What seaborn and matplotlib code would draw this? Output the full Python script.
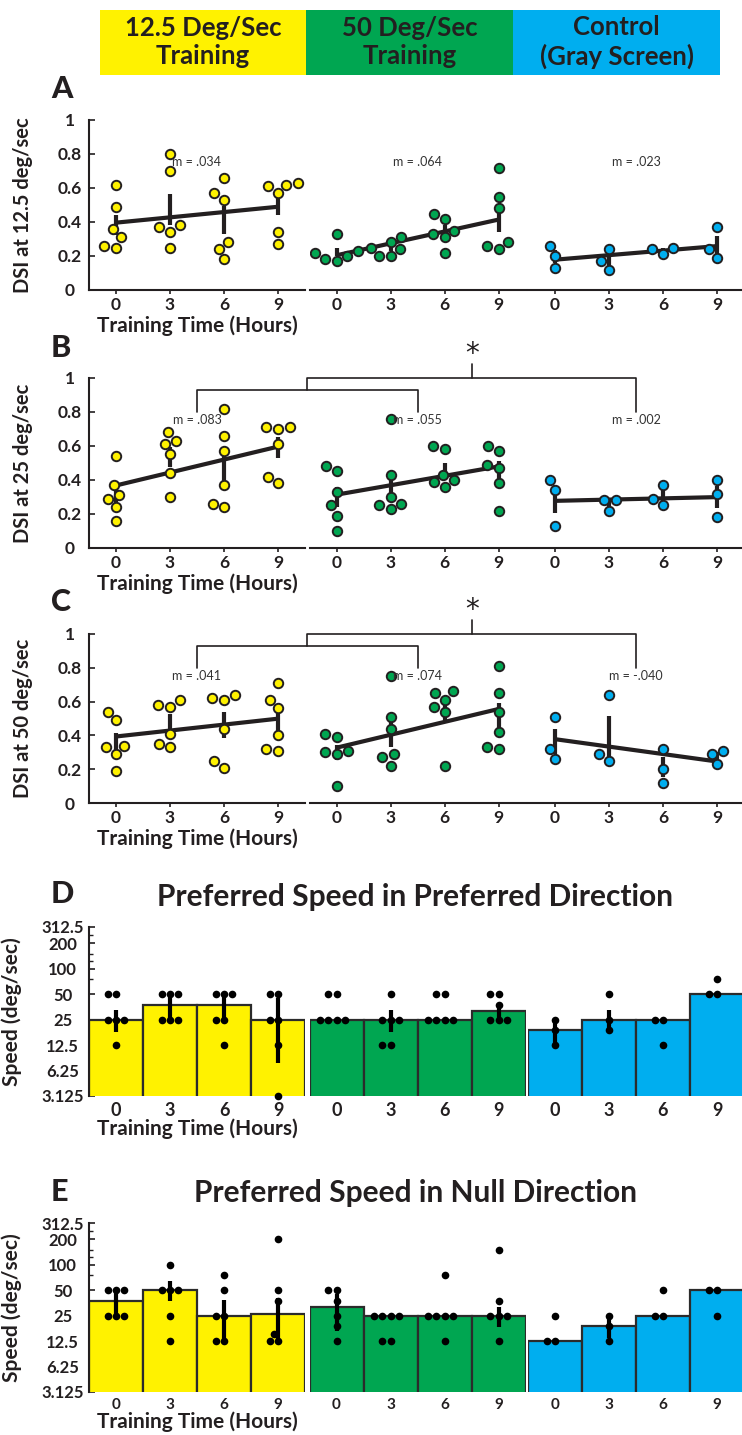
import numpy as np
import pandas as pd
import matplotlib
matplotlib.use("Agg")
import matplotlib.pyplot as plt
import seaborn as sns
from matplotlib.lines import Line2D
from matplotlib.patches import Rectangle
from matplotlib.ticker import NullFormatter

# ---------------- data ----------------
hours = [0, 3, 6, 9]
group_names = ["12.5 Deg/Sec\nTraining", "50 Deg/Sec\nTraining", "Control\n(Gray Screen)"]
group_colors = ["#FFF200", "#00A651", "#00AEEF"]

# Panel A: DSI at 12.5 deg/sec
a_yellow = [[0.62, 0.49, 0.36, 0.31, 0.26, 0.25], [0.80, 0.70, 0.38, 0.37, 0.34, 0.25],
            [0.66, 0.57, 0.53, 0.28, 0.24, 0.18], [0.63, 0.62, 0.61, 0.57, 0.34, 0.27]]
a_green = [[0.33, 0.23, 0.22, 0.20, 0.18, 0.17], [0.31, 0.28, 0.25, 0.24, 0.20, 0.20],
           [0.45, 0.42, 0.35, 0.33, 0.31, 0.22], [0.72, 0.55, 0.48, 0.28, 0.26, 0.24]]
a_blue = [[0.26, 0.20, 0.13], [0.24, 0.17, 0.12], [0.25, 0.24, 0.21], [0.37, 0.24, 0.19]]
a_slopes = [".034", ".064", ".023"]

# Panel B: DSI at 25 deg/sec
b_yellow = [[0.54, 0.37, 0.31, 0.29, 0.24, 0.16], [0.68, 0.63, 0.61, 0.55, 0.44, 0.30],
            [0.82, 0.66, 0.57, 0.37, 0.26, 0.24], [0.71, 0.71, 0.70, 0.61, 0.42, 0.38]]
b_green = [[0.48, 0.45, 0.33, 0.25, 0.19, 0.10], [0.76, 0.43, 0.30, 0.26, 0.25, 0.23],
           [0.60, 0.58, 0.43, 0.40, 0.39, 0.36], [0.60, 0.57, 0.49, 0.47, 0.38, 0.22]]
b_blue = [[0.40, 0.34, 0.13], [0.28, 0.28, 0.22], [0.37, 0.29, 0.25], [0.40, 0.32, 0.18]]
b_slopes = [".083", ".055", ".002"]

# Panel C: DSI at 50 deg/sec
c_yellow = [[0.54, 0.49, 0.34, 0.33, 0.29, 0.19], [0.61, 0.58, 0.57, 0.41, 0.35, 0.33],
            [0.64, 0.62, 0.61, 0.44, 0.25, 0.21], [0.71, 0.61, 0.56, 0.40, 0.32, 0.31]]
c_green = [[0.41, 0.39, 0.31, 0.30, 0.29, 0.10], [0.75, 0.51, 0.44, 0.29, 0.27, 0.22],
           [0.66, 0.65, 0.61, 0.57, 0.54, 0.22], [0.81, 0.65, 0.54, 0.42, 0.33, 0.32]]
c_blue = [[0.51, 0.32, 0.26], [0.64, 0.29, 0.25], [0.32, 0.20, 0.12], [0.31, 0.29, 0.23]]
c_slopes = [".041", ".074", "-.040"]

dsi_ticks = [0, 0.2, 0.4, 0.6, 0.8, 1]
dsi_tick_labels = ["0", "0.2", "0.4", "0.6", "0.8", "1"]

# Panel D: preferred speed in preferred direction (deg/sec)
d_yellow = [[50, 50, 25, 25, 25, 12.5], [50, 50, 50, 25, 25, 25],
            [50, 50, 50, 25, 25, 12.5], [50, 50, 25, 25, 12.5, 3.125]]
d_green = [[50, 50, 25, 25, 25, 25], [50, 25, 25, 25, 12.5, 12.5],
           [50, 50, 25, 25, 25, 25], [50, 50, 37.5, 25, 25, 25]]
d_blue = [[25, 18.75, 12.5], [50, 25, 18.75], [25, 25, 12.5], [75, 50, 50]]
d_err_low = [[18, 25, 25, 7.6], [25, 18, 25, 25], [13, 18, 25, 50]]
d_err_high = [[33, 52, 52, 45], [25, 33, 25, 37], [25, 33, 25, 50]]

# Panel E: preferred speed in null direction (deg/sec)
e_yellow = [[50, 50, 50, 25, 25, 25], [100, 50, 50, 50, 25, 12.5],
            [75, 50, 25, 25, 12.5, 12.5], [200, 50, 37.5, 15, 12.5, 12.5]]
e_green = [[50, 50, 37.5, 25, 18.75, 12.5], [25, 25, 25, 25, 12.5, 12.5],
           [75, 25, 25, 25, 25, 12.5], [150, 37.5, 25, 25, 25, 12.5]]
e_blue = [[25, 12.5, 12.5], [25, 18.75, 12.5], [50, 25, 25], [50, 50, 25]]
e_err_low = [[26, 37, 12.5, 12.5], [16.5, 25, 25, 18.5], [12.5, 13.5, 25, 50]]
e_err_high = [[48, 65, 38, 40], [45, 25, 25, 32], [12.5, 25, 25, 50]]

speed_ticks = [3.125, 6.25, 12.5, 25, 50, 100, 200, 312.5]
speed_tick_labels = ["3.125", "6.25", "12.5", "25", "50", "100", "200", "312.5"]
speed_minor_ticks = [75, 125, 150, 250]

# ---------------- style ----------------
sns.set_theme(style="ticks")
plt.rcParams["font.family"] = ["Lato", "DejaVu Sans"]
DARK = "#231F20"
plt.rcParams.update({"text.color": DARK, "axes.edgecolor": DARK, "xtick.color": DARK,
                     "ytick.color": DARK, "axes.labelcolor": DARK})

W, H = 742, 1435
fig = plt.figure(figsize=(W / 100, H / 100), dpi=100)


def fx(px):
    return px / W


def fy(py):
    return 1 - py / H


col_left = [89, 309.5, 528]
col_w = 216


def make_row(top, bottom):
    return [fig.add_axes([fx(l), fy(bottom), col_w / W, (bottom - top) / H]) for l in col_left]


def long_df(vals):
    return pd.DataFrame([(h, v) for h, vs in zip(hours, vals) for v in vs], columns=["t", "v"])


# ---------------- header ----------------
box_edges = [(100, 306), (306, 513), (513, 720)]
for (x0, x1), name, colr in zip(box_edges, group_names, group_colors):
    fig.add_artist(Rectangle((fx(x0), fy(75)), (x1 - x0) / W, 65 / H,
                             transform=fig.transFigure, facecolor=colr, edgecolor="none"))
    fig.text(fx((x0 + x1) / 2), fy(42), name, ha="center", va="center",
             fontsize=18.5, fontweight="bold", linespacing=1.2)


def panel_letter(letter, y):
    fig.text(fx(51), fy(y), letter, ha="left", va="baseline", fontsize=22, fontweight="black")


# ---------------- DSI rows ----------------
def dsi_row(top, bottom, data, slopes, ylabel):
    axes = make_row(top, bottom)
    for j, (ax, vals) in enumerate(zip(axes, data)):
        df = long_df(vals)
        stats = df.groupby("t")["v"].agg(["mean", "sem"])
        ax.vlines(stats.index, stats["mean"] - stats["sem"], stats["mean"] + stats["sem"],
                  color=DARK, lw=3, zorder=2)
        sns.regplot(data=df, x="t", y="v", scatter=False, ci=None, truncate=True, color=DARK,
                    line_kws={"lw": 3, "zorder": 2.5, "solid_capstyle": "butt"}, ax=ax)
        sns.swarmplot(data=df, x="t", y="v", native_scale=True, color=group_colors[j],
                      edgecolor=DARK, linewidth=1.4, size=6.8, ax=ax, zorder=3)
        ax.text(4.5, 0.75, f"m = {slopes[j]}", ha="center", va="center", fontsize=9,
                color="#333333")
        ax.set_xlim(-1.5, 10.5)
        ax.set_ylim(0, 1)
        ax.set_xlabel("")
        ax.set_ylabel("")
        ax.set_xticks(hours, labels=[str(h) for h in hours], fontweight="bold", fontsize=12.5)
        ax.tick_params(axis="x", direction="out", length=3, width=1.2, pad=2)
        ax.spines["top"].set_visible(False)
        ax.spines["right"].set_visible(False)
        ax.spines["bottom"].set_linewidth(1.5)
        if j == 0:
            ax.set_yticks(dsi_ticks, labels=dsi_tick_labels, fontweight="bold", fontsize=12.5,
                          ha="center")
            ax.tick_params(axis="y", direction="in", length=4, width=1.2, pad=14)
            ax.spines["left"].set_linewidth(1.5)
            ax.set_ylabel(ylabel, fontweight="bold", fontsize=14.5)
            ax.yaxis.set_label_coords(-0.26, 0.5)
            ax.set_xlabel("Training Time (Hours)", fontweight="bold", fontsize=15, labelpad=2)
        else:
            ax.spines["left"].set_visible(False)
            ax.tick_params(axis="y", left=False, labelleft=False)
    return axes


def to_fig(ax, x, y):
    return fig.transFigure.inverted().transform(ax.transData.transform((x, y)))


def bracket(axes):
    a, b, c = axes
    lw = 1.2
    la = to_fig(a, 4.5, 0.80)
    lb = to_fig(b, 4.5, 0.80)
    lc = to_fig(c, 4.5, 0.80)
    y_low = to_fig(a, 4.5, 0.93)[1]
    y_up = to_fig(a, 4.5, 1.0)[1]
    y_top = to_fig(a, 4.5, 1.08)[1]
    y_star = to_fig(a, 4.5, 1.14)[1]
    mid1 = (la[0] + lb[0]) / 2
    fig.add_artist(Line2D([la[0], la[0], lb[0], lb[0]], [la[1], y_low, y_low, lb[1]],
                          transform=fig.transFigure, color=DARK, lw=lw))
    fig.add_artist(Line2D([mid1, mid1, lc[0], lc[0]], [y_low, y_up, y_up, lc[1]],
                          transform=fig.transFigure, color=DARK, lw=lw))
    mid2 = (mid1 + lc[0]) / 2
    fig.add_artist(Line2D([mid2, mid2], [y_up, y_top], transform=fig.transFigure, color=DARK, lw=lw))
    fig.text(mid2, y_star, "*", ha="center", va="center", fontsize=20, family="DejaVu Sans")


rowA = dsi_row(120, 290, [a_yellow, a_green, a_blue], a_slopes, "DSI at 12.5 deg/sec")
panel_letter("A", 98)
rowB = dsi_row(378, 548, [b_yellow, b_green, b_blue], b_slopes, "DSI at 25 deg/sec")
panel_letter("B", 357)
bracket(rowB)
rowC = dsi_row(634, 803, [c_yellow, c_green, c_blue], c_slopes, "DSI at 50 deg/sec")
panel_letter("C", 611)
bracket(rowC)


# ---------------- speed rows ----------------
def speed_row(top, bottom, data, err_lo, err_hi, title, title_y, xtick_size):
    axes = make_row(top, bottom)
    for j, ax in enumerate(axes):
        df = long_df(data[j])
        sns.barplot(data=df, x="t", y="v", native_scale=True, estimator=np.median,
                    errorbar=None, color=group_colors[j], saturation=1, width=1,
                    edgecolor="#2B2B2B", linewidth=1.6, ax=ax, zorder=1)
        ax.vlines(hours, err_lo[j], err_hi[j], color="black", lw=3, zorder=3)
        sns.swarmplot(data=df, x="t", y="v", native_scale=True, color="black", size=5.5,
                      ax=ax, zorder=4, clip_on=False)
        ax.set_yscale("log")
        ax.set_ylim(3.125, 312.5)
        ax.set_xlim(-1.5, 10.5)
        ax.set_xlabel("")
        ax.set_ylabel("")
        ax.set_xticks(hours, labels=[str(h) for h in hours], fontweight="bold", fontsize=xtick_size)
        ax.tick_params(axis="x", length=0, pad=4)
        ax.spines["top"].set_visible(False)
        ax.spines["right"].set_visible(False)
        ax.spines["bottom"].set_visible(False)
        if j == 0:
            ax.set_yticks(speed_ticks, labels=speed_tick_labels, fontweight="bold",
                          fontsize=12, ha="center")
            ax.set_yticks(speed_minor_ticks, minor=True)
            ax.yaxis.set_minor_formatter(NullFormatter())
            ax.tick_params(axis="y", which="major", direction="in", length=4, width=1.2, pad=19)
            ax.tick_params(axis="y", which="minor", direction="in", length=3, width=1.0)
            ax.spines["left"].set_linewidth(1.5)
            ax.set_ylabel("Speed (deg/sec)", fontweight="bold", fontsize=15)
            ax.yaxis.set_label_coords(-0.31, 0.5)
            ax.set_xlabel("Training Time (Hours)", fontweight="bold", fontsize=15, labelpad=0)
        else:
            ax.spines["left"].set_visible(False)
            ax.tick_params(axis="y", which="both", left=False, labelleft=False)
    fig.text(fx(415), fy(title_y), title, ha="center", va="center", fontsize=21.5,
             fontweight="bold")
    return axes


rowD = speed_row(927, 1096, [d_yellow, d_green, d_blue], d_err_low, d_err_high,
                 "Preferred Speed in Preferred Direction", 897, 13)
panel_letter("D", 903)
rowE = speed_row(1223, 1392, [e_yellow, e_green, e_blue], e_err_low, e_err_high,
                 "Preferred Speed in Null Direction", 1193, 11)
panel_letter("E", 1201)

fig.savefig("out.png", dpi=100)
